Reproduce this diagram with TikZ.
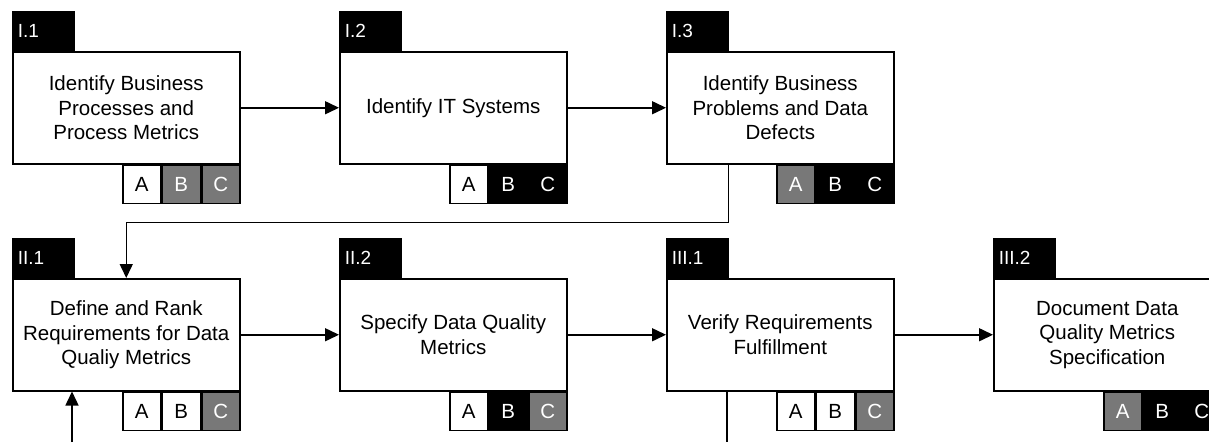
\documentclass[tikz,border=0pt]{standalone}
\usepackage{fontspec}
\setmainfont{Liberation Sans}
\usetikzlibrary{arrows.meta}
\definecolor{midgray}{RGB}{120,120,120}
\tikzset{
  procbox/.style={draw, line width=1.5pt, fill=white, minimum width=227pt, minimum height=112pt, inner sep=0pt, align=center, font=\fontsize{20.5}{24.5}\selectfont},
  tabbox/.style={fill=black, draw=black, line width=1.5pt, minimum width=61pt, minimum height=39pt, inner xsep=5pt, inner ysep=0pt, text width=51pt, align=left, anchor=south west, text=white, font=\fontsize{19}{20}\selectfont},
  cellbox/.style={draw, line width=1.5pt, minimum width=38pt, minimum height=38pt, inner sep=0pt, font=\fontsize{20.5}{21}\selectfont},
  cw/.style={fill=white, text=black},
  cg/.style={fill=midgray, text=white},
  cb/.style={fill=black, text=white},
  conn/.style={line width=1.5pt, -{Triangle[length=14pt,width=13pt]}},
  plainline/.style={line width=1.5pt}
}
\newcommand\procstep[8]{%
  \node[procbox, anchor=north west] (#1) at (#2,#3) {#5};
  \node[tabbox] (#1tab) at (#1.north west) {#4};
  \node[cellbox,#8,anchor=north east] (#1c) at (#1.south east) {C};
  \node[cellbox,#7,anchor=north east] (#1b) at (#1c.north west) {B};
  \node[cellbox,#6,anchor=north east] (#1a) at (#1b.north west) {A};
}
\begin{document}
\begin{tikzpicture}[x=1pt,y=-1pt]
\useasboundingbox (0,0) rectangle (1209,442);
\procstep{i1}{12}{51}{I.1}{Identify Business\\Processes and\\Process Metrics}{cw}{cg}{cg}
\procstep{i2}{339}{51}{I.2}{Identify IT Systems}{cw}{cb}{cb}
\procstep{i3}{666}{51}{I.3}{Identify Business\\Problems and Data\\Defects}{cg}{cb}{cb}
\procstep{ii1}{12}{278}{II.1}{Define and Rank\\Requirements for Data\\Qualiy Metrics}{cw}{cw}{cg}
\procstep{ii2}{339}{278}{II.2}{Specify Data Quality\\Metrics}{cw}{cb}{cg}
\procstep{iii1}{666}{278}{III.1}{Verify Requirements\\Fulfillment}{cw}{cw}{cg}
\procstep{iii2}{993}{278}{III.2}{Document Data\\Quality Metrics\\Specification}{cg}{cb}{cb}

\draw[conn] (i1.east) -- (i2.west);
\draw[conn] (i2.east) -- (i3.west);
\draw[conn] (i3.south -| i3tab.south east) -- ++(0pt,-58pt) -| (ii1.north);
\draw[conn] (ii1.east) -- (ii2.west);
\draw[conn] (ii2.east) -- (iii1.west);
\draw[conn] (iii1.east) -- (iii2.west);

\coordinate (fbin) at (72,442);
\coordinate (fbout) at (727,442);
\draw[conn] (fbin) -- (ii1.south -| fbin);
\draw[plainline] (iii1.south -| fbout) -- (fbout);
\end{tikzpicture}
\end{document}
